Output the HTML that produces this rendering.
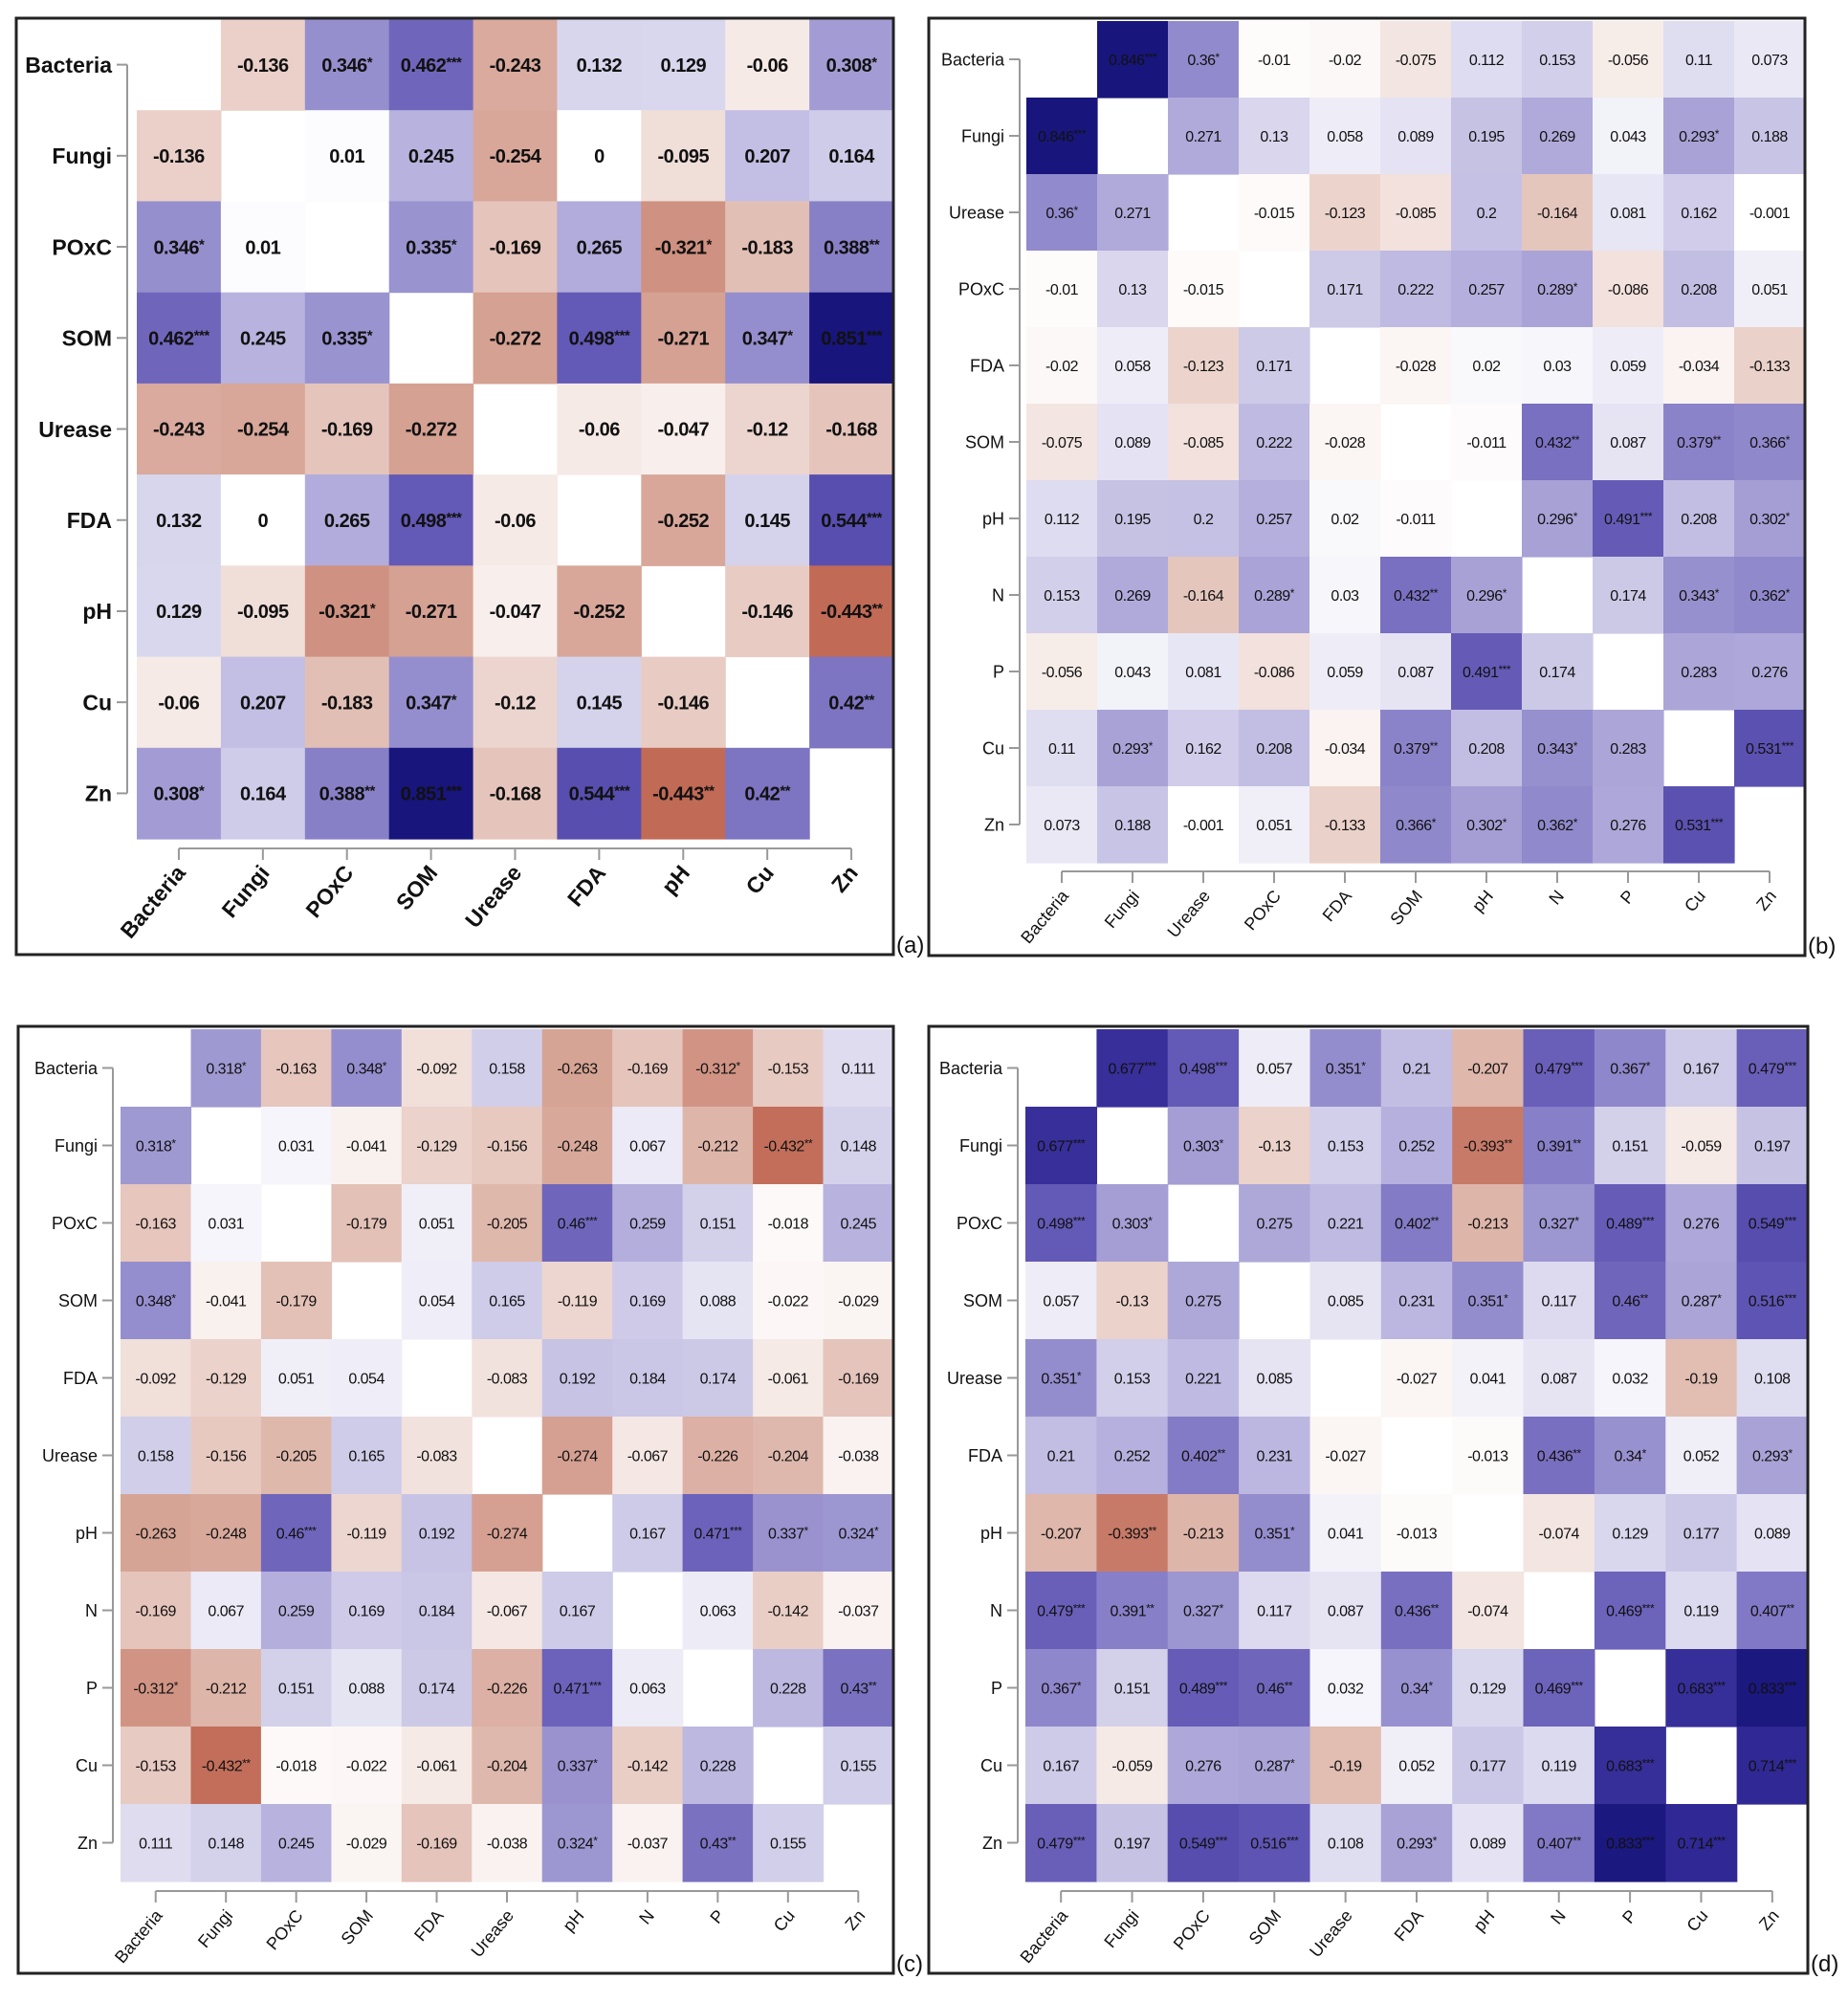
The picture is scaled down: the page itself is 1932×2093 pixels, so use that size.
<!DOCTYPE html>
<html><head><meta charset="utf-8"><style>
html,body{margin:0;padding:0;background:#fff;}
svg{display:block;font-family:"Liberation Sans",sans-serif;}
</style></head><body>
<svg id="fig" width="1932" height="2093" viewBox="0 0 1932 2093" xmlns="http://www.w3.org/2000/svg"></svg>
<script>
// ---- Panel (a) data ----
const labelsA = ["Bacteria","Fungi","POxC","SOM","Urease","FDA","pH","Cu","Zn"];
const upperA = [
 [-0.136,0.346,0.462,-0.243,0.132,0.129,-0.06,0.308],
 [0.01,0.245,-0.254,0,-0.095,0.207,0.164],
 [0.335,-0.169,0.265,-0.321,-0.183,0.388],
 [-0.272,0.498,-0.271,0.347,0.851],
 [-0.06,-0.047,-0.12,-0.168],
 [-0.252,0.145,0.544],
 [-0.146,-0.443],
 [0.42]
];
const sigA = [
 ["","*","***","","","","","*"],
 ["","","","","","",""],
 ["*","","","*","","**"],
 ["","***","","*","***"],
 ["","","",""],
 ["","","***"],
 ["","**"],
 ["**"]
];
// ---- Panel (b) data ----
const labelsB = ["Bacteria","Fungi","Urease","POxC","FDA","SOM","pH","N","P","Cu","Zn"];
const upperB = [
 [0.846,0.36,-0.01,-0.02,-0.075,0.112,0.153,-0.056,0.11,0.073],
 [0.271,0.13,0.058,0.089,0.195,0.269,0.043,0.293,0.188],
 [-0.015,-0.123,-0.085,0.2,-0.164,0.081,0.162,-0.001],
 [0.171,0.222,0.257,0.289,-0.086,0.208,0.051],
 [-0.028,0.02,0.03,0.059,-0.034,-0.133],
 [-0.011,0.432,0.087,0.379,0.366],
 [0.296,0.491,0.208,0.302],
 [0.174,0.343,0.362],
 [0.283,0.276],
 [0.531]
];
const sigB = [
 ["***","*","","","","","","","",""],
 ["","","","","","","","*",""],
 ["","","","","","","",""],
 ["","","","*","","",""],
 ["","","","","",""],
 ["","**","","**","*"],
 ["*","***","","*"],
 ["","*","*"],
 ["",""],
 ["***"]
];
// ---- Panel (c) data ----
const labelsC = ["Bacteria","Fungi","POxC","SOM","FDA","Urease","pH","N","P","Cu","Zn"];
const upperC = [
 [0.318,-0.163,0.348,-0.092,0.158,-0.263,-0.169,-0.312,-0.153,0.111],
 [0.031,-0.041,-0.129,-0.156,-0.248,0.067,-0.212,-0.432,0.148],
 [-0.179,0.051,-0.205,0.46,0.259,0.151,-0.018,0.245],
 [0.054,0.165,-0.119,0.169,0.088,-0.022,-0.029],
 [-0.083,0.192,0.184,0.174,-0.061,-0.169],
 [-0.274,-0.067,-0.226,-0.204,-0.038],
 [0.167,0.471,0.337,0.324],
 [0.063,-0.142,-0.037],
 [0.228,0.43],
 [0.155]
];
const sigC = [
 ["*","","*","","","","","*","",""],
 ["","","","","","","","**",""],
 ["","","","***","","","",""],
 ["","","","","","",""],
 ["","","","","",""],
 ["","","","",""],
 ["","***","*","*"],
 ["","",""],
 ["","**"],
 [""]
];
// ---- Panel (d) data ----
const labelsD = ["Bacteria","Fungi","POxC","SOM","Urease","FDA","pH","N","P","Cu","Zn"];
const upperD = [
 [0.677,0.498,0.057,0.351,0.21,-0.207,0.479,0.367,0.167,0.479],
 [0.303,-0.13,0.153,0.252,-0.393,0.391,0.151,-0.059,0.197],
 [0.275,0.221,0.402,-0.213,0.327,0.489,0.276,0.549],
 [0.085,0.231,0.351,0.117,0.46,0.287,0.516],
 [-0.027,0.041,0.087,0.032,-0.19,0.108],
 [-0.013,0.436,0.34,0.052,0.293],
 [-0.074,0.129,0.177,0.089],
 [0.469,0.119,0.407],
 [0.683,0.833],
 [0.714]
];
const sigD = [
 ["***","***","","*","","","***","*","","***"],
 ["*","","","","**","**","","",""],
 ["","","**","","*","***","","***"],
 ["","","*","","**","*","***"],
 ["","","","","",""],
 ["","**","*","","*"],
 ["","","",""],
 ["***","","**"],
 ["***","***"],
 ["***"]
];

const NS="http://www.w3.org/2000/svg";
const svg=document.getElementById('fig');
function mk(tag,attrs,parent){const e=document.createElementNS(NS,tag);for(const k in attrs)e.setAttribute(k,attrs[k]);(parent||svg).appendChild(e);return e;}
function lerp(a,b,t){return [0,1,2].map(i=>Math.round(a[i]+(b[i]-a[i])*t));}
const posStops=[[0,[255,255,255]],[0.25,[182,177,221]],[0.5,[98,88,182]],[0.7,[50,42,150]],[0.86,[22,20,122]],[1,[10,10,100]]];
const negStops=[[0,[255,255,255]],[0.25,[216,168,154]],[0.45,[192,104,84]],[1,[150,40,30]]];
function color(v){const st=v>=0?posStops:negStops;const a=Math.abs(v);
 for(let i=1;i<st.length;i++){if(a<=st[i][0]){const t=(a-st[i-1][0])/(st[i][0]-st[i-1][0]);const c=lerp(st[i-1][1],st[i][1],t);return `rgb(${c[0]},${c[1]},${c[2]})`;}}
 const c=st[st.length-1][1];return `rgb(${c[0]},${c[1]},${c[2]})`;}

function panel(cfg){
 const g=mk('g',{});
 
 
 const n=cfg.labels.length;
 const cw=(cfg.x1-cfg.x0)/n, rh=(cfg.y1-cfg.y0)/n;
 const xs=i=>cfg.x0+i*cw, ys=i=>cfg.y0+i*rh;
 const val=(i,j)=>i<j?cfg.upper[i][j-i-1]:cfg.upper[j][i-j-1];
 const sig=(i,j)=>i<j?cfg.sig[i][j-i-1]:cfg.sig[j][i-j-1];
 for(let i=0;i<n;i++)for(let j=0;j<n;j++){
  if(i===j)continue;
  const v=val(i,j);
  const r=mk('rect',{x:xs(j).toFixed(1),y:ys(i).toFixed(1),width:(cw+0.6).toFixed(1),height:(rh+0.6).toFixed(1),fill:color(v)},g);
  
  
  const t=mk('text',{x:(xs(j)+cw/2).toFixed(1),y:(ys(i)+rh/2+cfg.fs*0.36).toFixed(1),'text-anchor':'middle','font-size':cfg.fs,'font-weight':cfg.fw,'letter-spacing':'-0.5',fill:'#111'},g);
  
  
  t.textContent=String(v);
  const s=sig(i,j);
  if(s){const ts=mk('tspan',{'font-size':cfg.fs*0.75,dy:-cfg.fs*0.25},t);ts.textContent=s;}
 }
 const ax=cfg.axX;
 mk('line',{x1:ax,y1:ys(0)+rh/2,x2:ax,y2:ys(n-1)+rh/2,stroke:'#999','stroke-width':2},g);
 for(let i=0;i<n;i++){
  const yc=ys(i)+rh/2;
  mk('line',{x1:ax-11,y1:yc,x2:ax,y2:yc,stroke:'#999','stroke-width':2},g);
  const t=mk('text',{x:ax-16,y:yc+cfg.lfs*0.36,'text-anchor':'end','font-size':cfg.lfs,'font-weight':cfg.fw,fill:'#111'},g);
  
  
  t.textContent=cfg.labels[i];
 }
 const ay=cfg.axY;
 mk('line',{x1:xs(0)+cw/2,y1:ay,x2:xs(n-1)+cw/2,y2:ay,stroke:'#999','stroke-width':2},g);
 for(let j=0;j<n;j++){
  const xc=xs(j)+cw/2;
  mk('line',{x1:xc,y1:ay,x2:xc,y2:ay+12,stroke:'#999','stroke-width':2},g);
  const t=mk('text',{x:xc+8,y:ay+26,'text-anchor':'end','font-size':cfg.lfs,'font-weight':cfg.fw,fill:'#111',transform:`rotate(-50 ${xc+8} ${ay+26})`},g);
  
  
  t.textContent=cfg.labels[j];
 }
 const b=mk('rect',{x:cfg.bx0,y:cfg.by0,width:cfg.bx1-cfg.bx0,height:cfg.by1-cfg.by0,fill:'none',stroke:'#222','stroke-width':3},g);
 
 
 const lt=mk('text',{x:cfg.bx1+3,y:cfg.by1-2,'font-size':24,fill:'#111'},g);
 
 
 lt.textContent='('+cfg.tag+')';
}
panel({tag:'a',labels:labelsA,upper:upperA,sig:sigA,x0:143,x1:934,y0:20,y1:877,axX:133,axY:887,fs:20,lfs:23,fw:'bold',bx0:17,by0:19,bx1:934,by1:998});
panel({tag:'b',labels:labelsB,upper:upperB,sig:sigB,x0:1073,x1:1887,y0:22,y1:902,axX:1066,axY:911,fs:16,lfs:18,fw:'normal',bx0:971,by0:19,bx1:1887,by1:999});
panel({tag:'c',labels:labelsC,upper:upperC,sig:sigC,x0:126,x1:934,y0:1076,y1:1967,axX:118,axY:1977,fs:16,lfs:18,fw:'normal',bx0:19,by0:1073,bx1:934,by1:2063});
panel({tag:'d',labels:labelsD,upper:upperD,sig:sigD,x0:1072,x1:1890,y0:1076,y1:1967,axX:1064,axY:1977,fs:16,lfs:18,fw:'normal',bx0:971,by0:1073,bx1:1890,by1:2063});
</script>
</body></html>
